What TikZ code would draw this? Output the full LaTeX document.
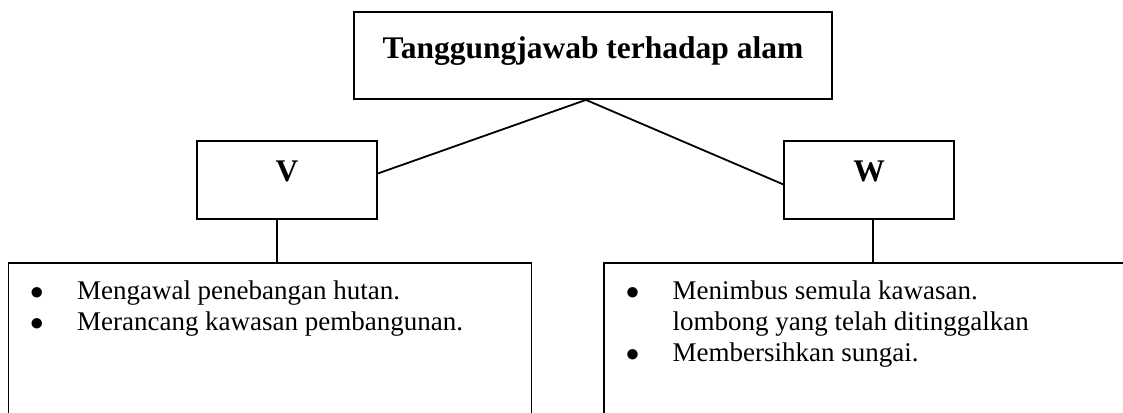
\documentclass[tikz,border=0pt]{standalone}
\usepackage{fontspec}
\setmainfont{Liberation Serif}
\usepackage{tikz}
\usetikzlibrary{positioning}

\begin{document}
\begin{tikzpicture}[line width=0.8pt,
    headbox/.style={draw, minimum height=1.218cm, text depth=7.5pt, font=\fontsize{14}{16}\selectfont\bfseries},
    listbox/.style={draw, minimum height=3cm},
    items/.style={inner sep=0pt, align=left, font=\fontsize{12}{13.8}\selectfont}]

    \useasboundingbox (-9.262,0.867) rectangle (8.278,-5.568);

    \node [headbox, minimum height=1.359cm, minimum width=7.466cm] (title) at (0,0) {Tanggungjawab terhadap alam};
    \node [headbox, below=0.625cm of title, xshift=-4.779cm, minimum width=2.811cm] (V) {V};
    \node [headbox, below=0.625cm of title, xshift=4.311cm, minimum width=2.655cm] (W) {W};

    \node [listbox, below=0.656cm of V, xshift=-0.266cm, minimum width=8.169cm] (listV) {};
    \node [listbox, below=0.656cm of W, xshift=0.125cm, minimum width=8.528cm] (listW) {};

    \node [items, below right=0.24cm and 0.34cm of listV.north west] (itemsV) {\begin{tabular}{@{}p{20.8pt}@{}l@{}}
        $\bullet$ & Mengawal penebangan hutan.\\
        $\bullet$ & Merancang kawasan pembangunan.
    \end{tabular}};
    \node [items, below right=0.24cm and 0.34cm of listW.north west] (itemsW) {\begin{tabular}{@{}p{20.8pt}@{}l@{}}
        $\bullet$ & Menimbus semula kawasan.\\
                  & lombong yang telah ditinggalkan\\
        $\bullet$ & Membersihkan sungai.
    \end{tabular}};

    \draw (title.-99) -- (V.4);
    \draw (title.-99) -- (W.-177);
    \draw (V.-104) -- (V.-104 |- listV.north);
    \draw (W.-84) -- (W.-84 |- listW.north);

\end{tikzpicture}
\end{document}
